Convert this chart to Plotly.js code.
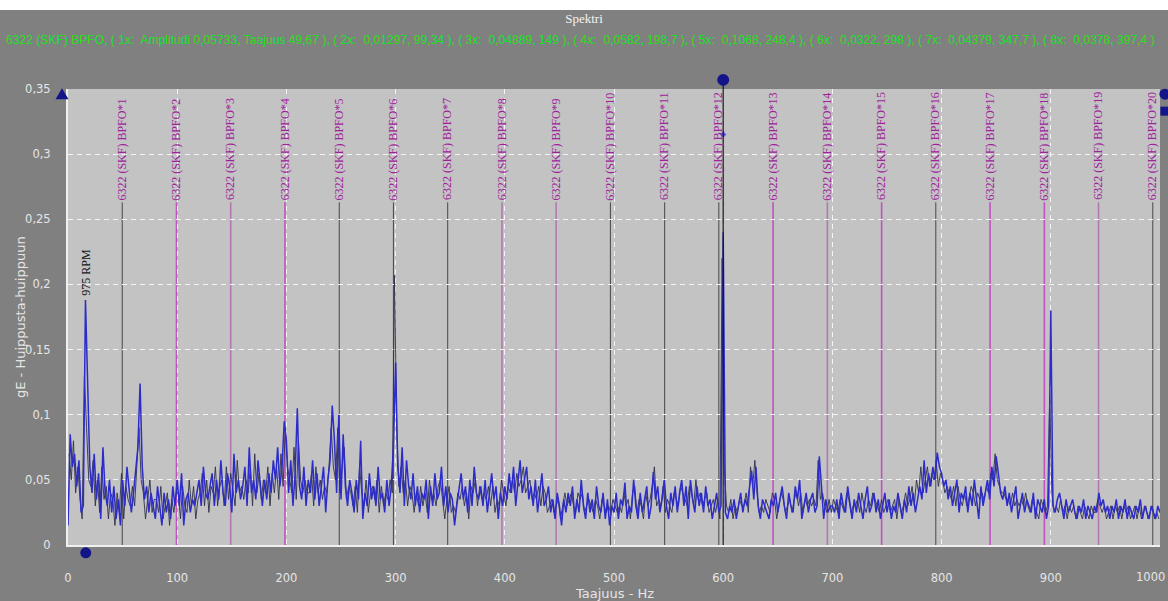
<!DOCTYPE html>
<html>
<head>
<meta charset="utf-8">
<script src="https://cdn.plot.ly/plotly-3.0.1.min.js"></script>
<style>
  html, body { margin: 0; padding: 0; background: #ffffff; }
  #chart { width: 1168px; height: 601px; }
</style>
</head>
<body>
<div id="chart"></div>
<script>
// Envelope spectrum (gE peak-to-peak), measured channel, even Hz 0..1000
const spectrumAmp = [
  0.015, 0.085, 0.06, 0.07, 0.045, 0.065, 0.025, 0.03, 0.188, 0.13,
  0.06, 0.04, 0.07, 0.035, 0.055, 0.02, 0.075, 0.04, 0.03, 0.05,
  0.025, 0.045, 0.02, 0.035, 0.015, 0.05, 0.03, 0.06, 0.045, 0.025,
  0.04, 0.055, 0.075, 0.124, 0.06, 0.035, 0.045, 0.025, 0.04, 0.03,
  0.02, 0.045, 0.03, 0.015, 0.04, 0.025, 0.035, 0.02, 0.045, 0.03,
  0.05, 0.03, 0.055, 0.015, 0.035, 0.04, 0.025, 0.035, 0.03, 0.04,
  0.05, 0.03, 0.06, 0.04, 0.035, 0.045, 0.055, 0.03, 0.05, 0.035,
  0.065, 0.04, 0.03, 0.055, 0.045, 0.025, 0.07, 0.04, 0.05, 0.035,
  0.045, 0.06, 0.03, 0.075, 0.04, 0.05, 0.035, 0.065, 0.045, 0.03,
  0.05, 0.035, 0.055, 0.04, 0.065, 0.05, 0.075, 0.045, 0.06, 0.095,
  0.08, 0.04, 0.065, 0.03, 0.055, 0.105, 0.045, 0.035, 0.06, 0.03,
  0.05, 0.04, 0.065, 0.035, 0.055, 0.03, 0.045, 0.06, 0.025, 0.05,
  0.065, 0.107, 0.08, 0.04, 0.1, 0.035, 0.085, 0.045, 0.03, 0.05,
  0.04, 0.025, 0.05, 0.035, 0.08, 0.02, 0.04, 0.03, 0.055, 0.035,
  0.045, 0.03, 0.06, 0.035, 0.04, 0.025, 0.05, 0.03, 0.045, 0.075,
  0.14, 0.06, 0.04, 0.075, 0.03, 0.065, 0.045, 0.035, 0.055, 0.03,
  0.045, 0.025, 0.04, 0.035, 0.05, 0.02, 0.045, 0.03, 0.055, 0.035,
  0.04, 0.06, 0.03, 0.045, 0.025, 0.04, 0.035, 0.015, 0.03, 0.045,
  0.055, 0.035, 0.045, 0.025, 0.05, 0.03, 0.06, 0.04, 0.035, 0.045,
  0.03, 0.05, 0.025, 0.04, 0.055, 0.035, 0.045, 0.02, 0.04, 0.03,
  0.045, 0.035, 0.055, 0.04, 0.06, 0.03, 0.05, 0.065, 0.04, 0.05,
  0.06, 0.035, 0.045, 0.03, 0.05, 0.025, 0.04, 0.055, 0.03, 0.035,
  0.045, 0.025, 0.035, 0.02, 0.04, 0.03, 0.015, 0.035, 0.025, 0.04,
  0.03, 0.045, 0.02, 0.035, 0.025, 0.05, 0.03, 0.02, 0.04, 0.025,
  0.035, 0.02, 0.045, 0.03, 0.025, 0.04, 0.02, 0.035, 0.015, 0.03,
  0.025, 0.04, 0.02, 0.035, 0.03, 0.048, 0.02, 0.03, 0.025, 0.05,
  0.03, 0.02, 0.04, 0.025, 0.035, 0.045, 0.02, 0.03, 0.056, 0.035,
  0.045, 0.025, 0.035, 0.05, 0.03, 0.02, 0.04, 0.03, 0.045, 0.025,
  0.04, 0.05, 0.03, 0.045, 0.02, 0.05, 0.035, 0.025, 0.045, 0.03,
  0.04, 0.025, 0.045, 0.03, 0.035, 0.02, 0.03, 0.04, 0.025, 0.03,
  0.24, 0.025, 0.02, 0.03, 0.025, 0.035, 0.02, 0.03, 0.04, 0.025,
  0.035, 0.03, 0.045, 0.057, 0.035, 0.06, 0.03, 0.02, 0.035, 0.03,
  0.025, 0.02, 0.035, 0.03, 0.04, 0.025, 0.035, 0.045, 0.03, 0.02,
  0.04, 0.03, 0.025, 0.045, 0.035, 0.05, 0.02, 0.03, 0.04, 0.025,
  0.035, 0.04, 0.025, 0.03, 0.068, 0.045, 0.02, 0.035, 0.025, 0.03,
  0.03, 0.025, 0.035, 0.02, 0.04, 0.03, 0.025, 0.045, 0.03, 0.02,
  0.035, 0.025, 0.04, 0.03, 0.02, 0.035, 0.045, 0.025, 0.03, 0.04,
  0.025, 0.035, 0.02, 0.03, 0.04, 0.025, 0.035, 0.02, 0.03, 0.025,
  0.04, 0.03, 0.02, 0.035, 0.025, 0.045, 0.03, 0.04, 0.025, 0.035,
  0.045, 0.035, 0.065, 0.04, 0.055, 0.045, 0.06, 0.05, 0.071, 0.06,
  0.055, 0.045, 0.05, 0.035, 0.045, 0.03, 0.04, 0.05, 0.025, 0.04,
  0.035, 0.045, 0.025, 0.04, 0.03, 0.05, 0.035, 0.02, 0.045, 0.03,
  0.04, 0.05, 0.035, 0.06, 0.045, 0.068, 0.055, 0.04, 0.035, 0.045,
  0.03, 0.04, 0.025, 0.035, 0.045, 0.02, 0.03, 0.04, 0.025, 0.035,
  0.03, 0.025, 0.04, 0.02, 0.035, 0.03, 0.025, 0.035, 0.02, 0.03,
  0.18, 0.03, 0.025, 0.035, 0.04, 0.03, 0.02, 0.035, 0.025, 0.03,
  0.035, 0.025, 0.02, 0.03, 0.025, 0.035, 0.02, 0.03, 0.025, 0.02,
  0.03, 0.025, 0.04, 0.03, 0.035, 0.025, 0.03, 0.02, 0.03, 0.025,
  0.035, 0.02, 0.03, 0.025, 0.035, 0.02, 0.03, 0.025, 0.02, 0.03,
  0.025, 0.035, 0.02, 0.03, 0.025, 0.02, 0.03, 0.025, 0.02, 0.03,
  0.025
];
const spectrumHz = spectrumAmp.map((_, i) => i * 2);

// Overlaid reference spectrum (dark trace), odd Hz 1..999
const referenceAmp = [
  0.07, 0.05, 0.08, 0.04, 0.06, 0.035, 0.02, 0.13, 0.09, 0.05,
  0.045, 0.065, 0.03, 0.05, 0.025, 0.06, 0.035, 0.045, 0.02, 0.04,
  0.035, 0.015, 0.04, 0.025, 0.055, 0.02, 0.045, 0.035, 0.03, 0.045,
  0.03, 0.065, 0.09, 0.05, 0.04, 0.02, 0.035, 0.05, 0.025, 0.035,
  0.035, 0.025, 0.045, 0.02, 0.03, 0.04, 0.015, 0.035, 0.025, 0.04,
  0.04, 0.02, 0.045, 0.03, 0.025, 0.05, 0.03, 0.045, 0.02, 0.035,
  0.04, 0.055, 0.03, 0.05, 0.025, 0.045, 0.04, 0.06, 0.03, 0.045,
  0.05, 0.03, 0.06, 0.035, 0.055, 0.04, 0.03, 0.065, 0.04, 0.045,
  0.035, 0.05, 0.04, 0.06, 0.03, 0.07, 0.04, 0.055, 0.035, 0.05,
  0.04, 0.06, 0.03, 0.055, 0.04, 0.06, 0.035, 0.07, 0.045, 0.09,
  0.06, 0.05, 0.04, 0.075, 0.035, 0.08, 0.05, 0.04, 0.05, 0.04,
  0.04, 0.055, 0.03, 0.06, 0.04, 0.05, 0.035, 0.045, 0.04, 0.06,
  0.09, 0.06, 0.05, 0.09, 0.04, 0.06, 0.075, 0.035, 0.045, 0.04,
  0.03, 0.045, 0.025, 0.06, 0.04, 0.03, 0.05, 0.025, 0.04, 0.045,
  0.035, 0.05, 0.025, 0.045, 0.03, 0.04, 0.035, 0.05, 0.04, 0.207,
  0.09, 0.045, 0.06, 0.04, 0.05, 0.03, 0.045, 0.04, 0.025, 0.04,
  0.03, 0.045, 0.03, 0.04, 0.025, 0.05, 0.035, 0.04, 0.03, 0.045,
  0.05, 0.035, 0.02, 0.035, 0.045, 0.025, 0.03, 0.025, 0.04, 0.035,
  0.045, 0.03, 0.04, 0.02, 0.045, 0.04, 0.05, 0.03, 0.045, 0.035,
  0.04, 0.035, 0.045, 0.03, 0.045, 0.025, 0.035, 0.03, 0.05, 0.04,
  0.03, 0.045, 0.04, 0.05, 0.04, 0.055, 0.045, 0.05, 0.06, 0.04,
  0.045, 0.05, 0.035, 0.04, 0.035, 0.045, 0.03, 0.045, 0.04, 0.025,
  0.03, 0.035, 0.025, 0.03, 0.035, 0.02, 0.03, 0.04, 0.03, 0.035,
  0.04, 0.03, 0.025, 0.04, 0.035, 0.04, 0.025, 0.03, 0.035, 0.03,
  0.025, 0.035, 0.03, 0.02, 0.035, 0.03, 0.025, 0.03, 0.025, 0.035,
  0.03, 0.025, 0.03, 0.025, 0.04, 0.03, 0.035, 0.02, 0.04, 0.045,
  0.025, 0.035, 0.03, 0.02, 0.04, 0.03, 0.035, 0.045, 0.06, 0.03,
  0.035, 0.03, 0.045, 0.025, 0.035, 0.03, 0.025, 0.04, 0.035, 0.03,
  0.045, 0.04, 0.035, 0.03, 0.045, 0.04, 0.03, 0.05, 0.035, 0.04,
  0.03, 0.035, 0.04, 0.025, 0.03, 0.035, 0.025, 0.035, 0.02, 0.22,
  0.06, 0.03, 0.025, 0.035, 0.02, 0.03, 0.025, 0.035, 0.03, 0.03,
  0.04, 0.025, 0.06, 0.045, 0.065, 0.04, 0.025, 0.03, 0.025, 0.035,
  0.03, 0.025, 0.04, 0.035, 0.02, 0.03, 0.04, 0.035, 0.025, 0.03,
  0.035, 0.025, 0.035, 0.04, 0.03, 0.04, 0.025, 0.035, 0.03, 0.035,
  0.03, 0.035, 0.03, 0.065, 0.035, 0.04, 0.03, 0.025, 0.035, 0.025,
  0.035, 0.03, 0.025, 0.035, 0.03, 0.025, 0.04, 0.035, 0.025, 0.03,
  0.03, 0.035, 0.025, 0.04, 0.03, 0.025, 0.035, 0.03, 0.04, 0.035,
  0.03, 0.025, 0.035, 0.025, 0.03, 0.035, 0.025, 0.03, 0.035, 0.02,
  0.035, 0.025, 0.03, 0.04, 0.03, 0.035, 0.045, 0.03, 0.05, 0.04,
  0.06, 0.04, 0.05, 0.06, 0.045, 0.055, 0.05, 0.065, 0.045, 0.055,
  0.05, 0.04, 0.045, 0.04, 0.035, 0.045, 0.03, 0.045, 0.035, 0.03,
  0.04, 0.03, 0.035, 0.045, 0.04, 0.03, 0.04, 0.035, 0.04, 0.035,
  0.045, 0.04, 0.055, 0.05, 0.07, 0.05, 0.045, 0.04, 0.04, 0.035,
  0.035, 0.03, 0.04, 0.03, 0.035, 0.03, 0.035, 0.03, 0.04, 0.03,
  0.025, 0.035, 0.03, 0.025, 0.02, 0.035, 0.03, 0.025, 0.03, 0.115,
  0.04, 0.025, 0.03, 0.025, 0.035, 0.025, 0.03, 0.02, 0.03, 0.025,
  0.03, 0.02, 0.03, 0.025, 0.02, 0.03, 0.025, 0.02, 0.03, 0.025,
  0.025, 0.035, 0.03, 0.025, 0.03, 0.02, 0.025, 0.03, 0.02, 0.03,
  0.025, 0.03, 0.02, 0.03, 0.025, 0.03, 0.02, 0.025, 0.03, 0.02,
  0.03, 0.02, 0.025, 0.03, 0.02, 0.025, 0.03, 0.02, 0.025, 0.02
];
const referenceHz = referenceAmp.map((_, i) => i * 2 + 1);

// Bearing 6322 (SKF) outer race defect frequency and its harmonics, Hz
const bpfoHarmonicNo = [1, 2, 3, 4, 5, 6, 7, 8, 9, 10, 11, 12, 13, 14, 15, 16, 17, 18, 19, 20];
const bpfoHz = [49.67, 99.34, 149.0, 198.7, 248.4, 298.0, 347.7, 397.4, 447.0, 496.7,
                546.4, 596.0, 645.7, 695.4, 745.1, 794.7, 844.4, 894.1, 943.7, 993.4];
const bpfoCursorTop = 0.263;

// Running speed marker
const rpmLabel = '975 RPM';
const rpmHz = 16.25;
const rpmPeak = 0.19;

// Cursors: main cursor at 600 Hz, lower cursor at running speed
const cursorHz = 600;
const cursorTop = 0.357;
const cursorTrackValue = 0.315;
const lowerCursorHz = 16.25;
const lowerCursorValue = -0.006;
const leftHandleHz = -5.5;
const rightHandleHz = 1004.5;
const handleValues = [0.346, 0.333];

// Axes
const xRange = [0, 1000];
const yRange = [0, 0.35];
const xTicks = [0, 100, 200, 300, 400, 500, 600, 700, 800, 900, 1000];
const yTicks = [0, 0.05, 0.1, 0.15, 0.2, 0.25, 0.3, 0.35];

// Header strings
const chartTitle = 'Spektri';
const bpfoSummary = '6322 (SKF) BPFO, ( 1x:  Amplitudi 0,05733, Taajuus 49,67 ), ( 2x:  0,01297, 99,34 ), ( 3x:  0,04889, 149 ), ( 4x:  0,0582, 198,7 ), ( 5x:  0,1068, 248,4 ), ( 6x:  0,0322, 298 ), ( 7x:  0,04379, 347,7 ), ( 8x:  0,0378, 397,4 )';

// Harmonic cursor line styling
const DARK = '#474747';
const MAG = '#c252c2';
const PALE = '#b07ab0';
const harmonicLineColor = [DARK, MAG, PALE, MAG, DARK, DARK, DARK, PALE, PALE, DARK,
                           DARK, DARK, MAG, PALE, MAG, DARK, MAG, MAG, PALE, DARK];
const HANDLE = '#13138a';
const AXIS_TEXT = '#e6e6e6';

// value -> paper fraction on the linear axes
const yPaper = v => (v - yRange[0]) / (yRange[1] - yRange[0]);
const xPaper = f => (f - xRange[0]) / (xRange[1] - xRange[0]);

const shapes = [];
const annotations = [];

// white strip along the top edge
shapes.push({type: 'rect', xref: 'paper', yref: 'paper', x0: -0.1, x1: 1.1,
  y0: (545 - 10) / 456, y1: 1.4, fillcolor: '#ffffff', line: {width: 0}, layer: 'below'});

bpfoHz.forEach((f, i) => {
  shapes.push({type: 'line', xref: 'x', yref: 'y', x0: f, x1: f, y0: 0, y1: bpfoCursorTop,
    line: {color: harmonicLineColor[i], width: harmonicLineColor[i] === DARK ? 1 : 1.6}, layer: 'below'});
  annotations.push({xref: 'x', yref: 'y', x: f, y: bpfoCursorTop, showarrow: false,
    text: '6322 (SKF) BPFO*' + bpfoHarmonicNo[i], textangle: -90,
    xanchor: 'center', yanchor: 'bottom',
    font: {family: 'Liberation Serif, serif', size: 12, color: '#9e229c'}});
});

// main cursor line, running up to its handle above the plot
shapes.push({type: 'line', xref: 'paper', yref: 'paper',
  x0: xPaper(cursorHz), x1: xPaper(cursorHz), y0: 0, y1: yPaper(cursorTop),
  line: {color: '#151515', width: 1.2}});

// cursor handles
function dot(fx, py, r) {
  return {type: 'circle', xref: 'paper', yref: 'paper', xsizemode: 'pixel', ysizemode: 'pixel',
    xanchor: fx, yanchor: py, x0: -r, x1: r, y0: -r, y1: r,
    fillcolor: HANDLE, line: {color: HANDLE, width: 0}};
}
shapes.push(dot(xPaper(cursorHz), yPaper(cursorTop), 6));
shapes.push(dot(xPaper(lowerCursorHz), yPaper(lowerCursorValue), 5.5));
shapes.push(dot(xPaper(rightHandleHz), yPaper(handleValues[0]), 5.5));
shapes.push({type: 'rect', xref: 'paper', yref: 'paper', xsizemode: 'pixel', ysizemode: 'pixel',
  xanchor: xPaper(rightHandleHz), yanchor: yPaper(handleValues[1]), x0: -4.5, x1: 4.5, y0: -4.5, y1: 4.5,
  fillcolor: HANDLE, line: {width: 0}});
shapes.push({type: 'path', xref: 'paper', yref: 'paper', xsizemode: 'pixel', ysizemode: 'pixel',
  xanchor: xPaper(leftHandleHz), yanchor: yPaper(handleValues[0]),
  path: 'M -6.5,-5 L 6.5,-5 L 0,6 Z', fillcolor: HANDLE, line: {width: 0}});

annotations.push({xref: 'x', yref: 'y', x: rpmHz, y: rpmPeak, showarrow: false,
  text: rpmLabel, textangle: -90, xanchor: 'center', yanchor: 'bottom',
  font: {family: 'Liberation Serif, serif', size: 12, color: '#151515'}});

annotations.push({xref: 'paper', yref: 'paper', x: (4 - 68) / 1092, y: (545 - 40) / 456,
  xanchor: 'left', yanchor: 'middle', showarrow: false, text: bpfoSummary,
  font: {family: 'Liberation Sans, Arial, sans-serif', size: 12.1, color: '#1fe01f'}});

annotations.push({xref: 'paper', yref: 'paper', x: 0.5, y: (545 - 593) / 456,
  xanchor: 'center', yanchor: 'middle', showarrow: false, text: 'Taajuus - Hz',
  font: {family: 'DejaVu Sans, sans-serif', size: 13, color: AXIS_TEXT}});

annotations.push({xref: 'paper', yref: 'paper', x: (20 - 68) / 1092, y: (545 - 317) / 456,
  xanchor: 'center', yanchor: 'middle', showarrow: false, textangle: -90,
  text: 'gE - Huippusta-huippuun',
  font: {family: 'DejaVu Sans, sans-serif', size: 13, color: AXIS_TEXT}});

// the last x tick label sits right-aligned at the panel edge
const lastTick = xTicks[xTicks.length - 1];
annotations.push({xref: 'x', yref: 'paper', x: lastTick, y: (545 - 577) / 456,
  xanchor: 'right', yanchor: 'middle', xshift: 7, showarrow: false, text: String(lastTick),
  font: {family: 'DejaVu Sans, sans-serif', size: 11.5, color: AXIS_TEXT}});

const traces = [
  {
    type: 'scatter', mode: 'lines', x: referenceHz, y: referenceAmp,
    line: {color: '#30304a', width: 0.9}, hoverinfo: 'x+y', showlegend: false
  },
  {
    type: 'scatter', mode: 'lines', x: spectrumHz, y: spectrumAmp,
    line: {color: '#2c2cc8', width: 1.5}, hoverinfo: 'x+y', showlegend: false
  },
  {
    type: 'scatter', mode: 'markers', x: [cursorHz], y: [cursorTrackValue],
    marker: {symbol: 'diamond', size: 5, color: '#5a5ae0'}, showlegend: false
  }
];

const layout = {
  width: 1168, height: 601,
  margin: {l: 68, r: 8, t: 89, b: 56},
  paper_bgcolor: '#808080',
  plot_bgcolor: '#c3c3c3',
  separators: ', ',
  showlegend: false,
  title: {text: chartTitle, x: 0.5, xanchor: 'center', y: 1 - 18 / 601, yanchor: 'middle',
    font: {family: 'Liberation Serif, serif', size: 13, color: '#f2f2f2'}},
  xaxis: {
    range: xRange, tickvals: xTicks.slice(0, -1), ticks: '', showgrid: true,
    gridcolor: '#f4f4f4', griddash: '5px,4px', gridwidth: 1,
    showline: true, linecolor: '#f0f0f0', linewidth: 2, zeroline: false,
    ticklabelstandoff: 21,
    tickfont: {family: 'DejaVu Sans, sans-serif', size: 11.5, color: AXIS_TEXT}
  },
  yaxis: {
    range: yRange, tickvals: yTicks, ticks: '', showgrid: true,
    gridcolor: '#f4f4f4', griddash: '5px,4px', gridwidth: 1,
    showline: true, linecolor: '#f0f0f0', linewidth: 2, zeroline: false,
    ticklabelstandoff: 13,
    tickfont: {family: 'DejaVu Sans, sans-serif', size: 11.5, color: AXIS_TEXT}
  },
  shapes: shapes,
  annotations: annotations
};

Plotly.newPlot('chart', traces, layout, {displayModeBar: false, staticPlot: true});
</script>
</body>
</html>
